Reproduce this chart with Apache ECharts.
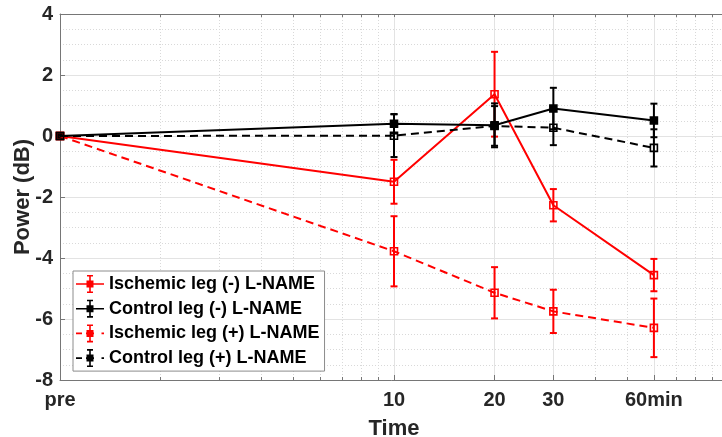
<!DOCTYPE html>
<html><head><meta charset="utf-8">
<script src="https://cdn.jsdelivr.net/npm/echarts@6/dist/echarts.min.js"></script>
<style>html,body{margin:0;padding:0;background:#fff}#c{width:722px;height:437px}</style>
</head><body><div id="c"></div>
<script>
// ---- data ----
const times = [1, 10, 20, 30, 60];
const tickLabels = ['pre', '10', '20', '30', '60min'];
const minorTimes = [2, 3, 4, 5, 6, 7, 8, 9, 40, 50, 70, 80, 90];
const seriesNames = ['Ischemic leg (-) L-NAME', 'Control leg (-) L-NAME', 'Ischemic leg (+) L-NAME', 'Control leg (+) L-NAME'];
const ischemicMinus = [0, -1.50, 1.37, -2.27, -4.56];
const ischemicMinusErr = [0, 0.72, 1.39, 0.53, 0.53];
const controlMinus = [0, 0.40, 0.35, 0.90, 0.51];
const controlMinusErr = [0, 0.32, 0.72, 0.68, 0.55];
const ischemicPlus = [0, -3.78, -5.14, -5.75, -6.29];
const ischemicPlusErr = [0, 1.15, 0.84, 0.71, 0.96];
const controlPlus = [0, 0.01, 0.33, 0.27, -0.39];
const controlPlusErr = [0, 0.70, 0.65, 0.57, 0.61];

const means = [ischemicMinus, controlMinus, ischemicPlus, controlPlus];
const errs = [ischemicMinusErr, controlMinusErr, ischemicPlusErr, controlPlusErr];
const colors = ['#ff0000', '#000000', '#ff0000', '#000000'];
const dashed = [false, false, true, true];
const filled = [false, true, false, false];

const solidIcon = 'path://M0 8.2L28 8.2L28 9.8L0 9.8Z M13.2 1L14.8 1L14.8 17L13.2 17Z M11 0L17 0L17 1.6L11 1.6Z M11 16.4L17 16.4L17 18L11 18Z M10.5 5.5L17.5 5.5L17.5 12.5L10.5 12.5Z';
const dashIcon = 'path://M0 8.2L6 8.2L6 9.8L0 9.8Z M10 8.2L18 8.2L18 9.8L10 9.8Z M25.5 8.2L28 8.2L28 9.8L25.5 9.8Z M13.2 1L14.8 1L14.8 17L13.2 17Z M11 0L17 0L17 1.6L11 1.6Z M11 16.4L17 16.4L17 18L11 18Z M10.5 5.5L17.5 5.5L17.5 12.5L10.5 12.5Z';

const axisGray = '#767676';
const txt = '#262626';
const font = 'Liberation Sans, Arial, sans-serif';

const series = [];
for (let k = 0; k < 4; k++) {
  const col = colors[k];
  series.push({
    type: 'custom', name: seriesNames[k], z: 2 + k,
    itemStyle: { color: col },
    data: times.map((t, i) => [t, means[k][i] - errs[k][i], means[k][i] + errs[k][i]]),
    encode: { x: 0, y: [1, 2] },
    renderItem: function (params, api) {
      const x = api.value(0), lo = api.value(1), hi = api.value(2);
      const p1 = api.coord([x, hi]), p2 = api.coord([x, lo]);
      const w = 3.5;
      const st = { stroke: col, lineWidth: 2 };
      return { type: 'group', children: [
        { type: 'line', shape: { x1: p1[0], y1: p1[1], x2: p2[0], y2: p2[1] }, style: st },
        { type: 'line', shape: { x1: p1[0] - w, y1: p1[1], x2: p1[0] + w, y2: p1[1] }, style: st },
        { type: 'line', shape: { x1: p2[0] - w, y1: p2[1], x2: p2[0] + w, y2: p2[1] }, style: st }
      ]};
    }
  });
}
for (let k = 0; k < 4; k++) {
  series.push({
    type: 'line', name: seriesNames[k], z: 3 + k,
    data: times.map((t, i) => [t, means[k][i]]),
    symbol: 'rect', symbolSize: 7,
    lineStyle: { color: colors[k], width: 2, type: dashed[k] ? [8, 5] : 'solid' },
    itemStyle: { color: filled[k] ? colors[k] : 'rgba(255,255,255,0)', borderColor: colors[k], borderWidth: 1.6 },
    emphasis: { disabled: true },
    animation: false
  });
}

const chart = echarts.init(document.getElementById('c'));
chart.setOption({
  animation: false,
  backgroundColor: '#fff',
  grid: { left: 60, top: 14, width: 668, height: 366, containLabel: false, outerBoundsMode: 'none' },
  legend: {
    orient: 'vertical', left: 73, top: 271,
    padding: [4, 5, 4, 3],
    itemWidth: 28, itemHeight: 18, itemGap: 6.7,
    backgroundColor: '#fff', borderColor: '#8c8c8c', borderWidth: 1,
    textStyle: { fontFamily: font, fontWeight: 'bold', fontSize: 18, color: '#000' },
    data: seriesNames.map((n, k) => ({ name: n, icon: dashed[k] ? dashIcon : solidIcon, itemStyle: { color: colors[k] } })),
    selectedMode: false
  },
  xAxis: [
    {
      type: 'log', logBase: 10, min: 1, max: 100, position: 'bottom',
      name: 'Time', nameLocation: 'middle', nameGap: 38, nameMoveOverlap: false,
      nameTextStyle: { fontFamily: font, fontWeight: 'bold', fontSize: 22, color: txt },
      axisLine: { show: true, onZero: false, lineStyle: { color: axisGray, width: 1 } },
      axisTick: { show: true, inside: true, length: 5, lineStyle: { color: axisGray }, customValues: times },
      axisLabel: {
        customValues: times, margin: 10,
        fontFamily: font, fontWeight: 'bold', fontSize: 20, color: txt,
        formatter: function (v) { const i = times.indexOf(Math.round(v)); return i >= 0 ? tickLabels[i] : ''; }
      },
      splitLine: { show: true, lineStyle: { color: '#e3e3e3', width: 1 } }
    },
    {
      type: 'log', logBase: 10, min: 1, max: 100, position: 'bottom',
      axisLine: { show: false, onZero: false },
      axisTick: { show: true, inside: true, length: 3, lineStyle: { color: axisGray }, customValues: minorTimes },
      axisLabel: { show: false, customValues: minorTimes },
      splitLine: { show: true, lineStyle: { color: '#d9d9d9', width: 1, type: [1, 2] } }
    },
    {
      type: 'log', logBase: 10, min: 1, max: 100, position: 'top',
      axisLine: { show: true, onZero: false, lineStyle: { color: axisGray, width: 1 } },
      axisTick: { show: true, inside: true, length: 3, lineStyle: { color: axisGray }, customValues: times.concat(minorTimes) },
      axisLabel: { show: false, customValues: times.concat(minorTimes) },
      splitLine: { show: false }
    }
  ],
  yAxis: [{
    type: 'value', min: -8, max: 4, interval: 2,
    name: 'Power (dB)', nameLocation: 'middle', nameGap: 26, nameMoveOverlap: false,
    nameTextStyle: { fontFamily: font, fontWeight: 'bold', fontSize: 22, color: txt },
    axisLine: { show: true, onZero: false, lineStyle: { color: axisGray, width: 1 } },
    axisTick: { show: true, inside: true, length: 5, lineStyle: { color: axisGray } },
    axisLabel: { margin: 7, fontFamily: font, fontWeight: 'bold', fontSize: 20, color: txt },
    splitLine: { show: true, lineStyle: { color: '#e3e3e3', width: 1 } },
    minorTick: { show: false, splitNumber: 4 },
    minorSplitLine: { show: true, lineStyle: { color: '#d9d9d9', width: 1, type: [1, 2] } }
  }],
  series: series
});
</script>
</body></html>
